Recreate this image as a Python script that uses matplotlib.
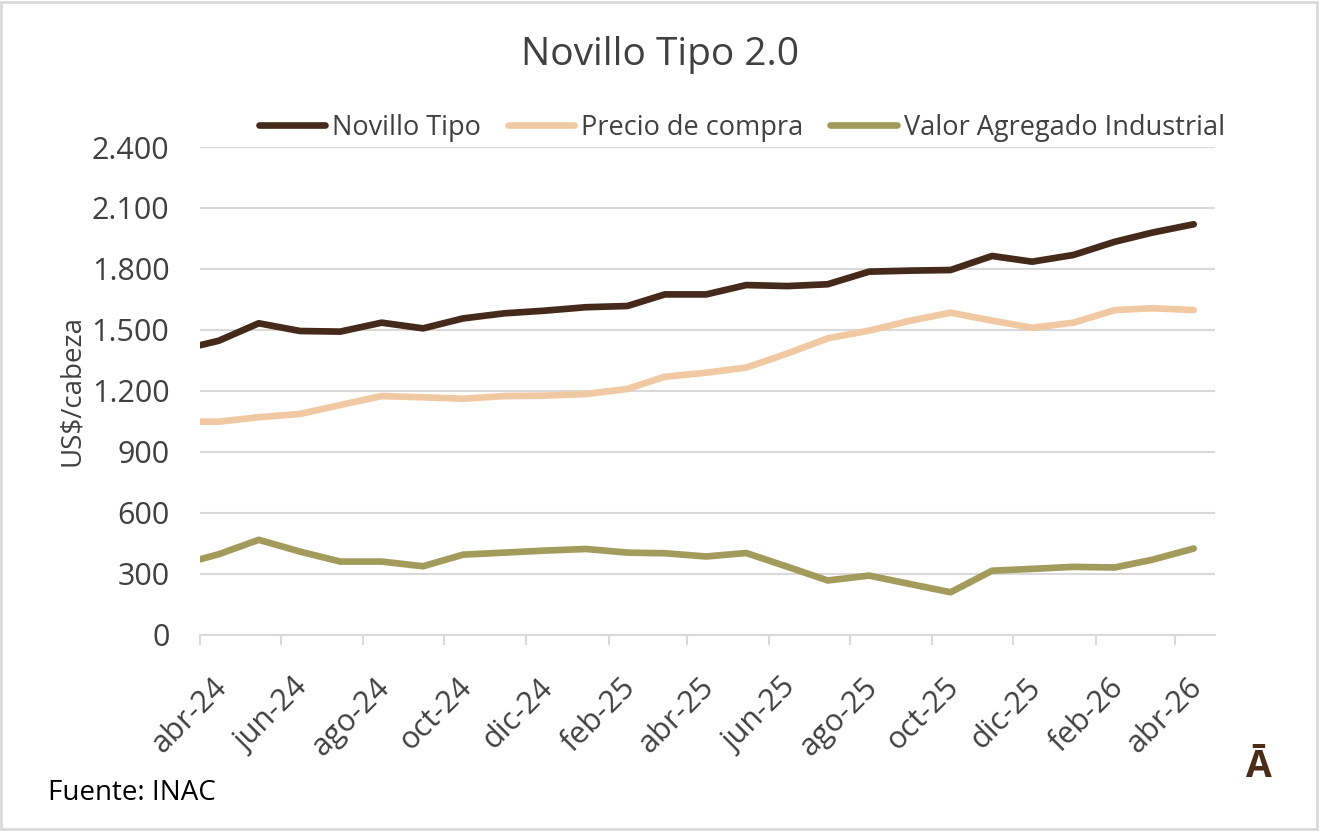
import matplotlib
matplotlib.use('Agg')
import matplotlib.pyplot as plt
import matplotlib.transforms as mtransforms
from matplotlib.patches import Rectangle
import pandas as pd

plt.rcParams['font.family'] = ['Open Sans', 'DejaVu Sans']

# --- data ---
fechas = ['2024-04-01', '2024-04-15', '2024-05-15', '2024-06-15', '2024-07-15',
          '2024-08-15', '2024-09-15', '2024-10-15', '2024-11-15', '2024-12-15',
          '2025-01-15', '2025-02-15', '2025-03-15', '2025-04-15', '2025-05-15',
          '2025-06-15', '2025-07-15', '2025-08-15', '2025-09-15', '2025-10-15',
          '2025-11-15', '2025-12-15', '2026-01-15', '2026-02-15', '2026-03-15',
          '2026-04-15']
novillo_tipo = [1425, 1447, 1533, 1495, 1492, 1536, 1508, 1557, 1582, 1595,
                1612, 1618, 1675, 1675, 1721, 1716, 1725, 1787, 1792, 1795,
                1864, 1836, 1869, 1934, 1979, 2020]
precio_compra = [1049, 1049, 1071, 1087, 1131, 1175, 1169, 1162, 1175, 1177,
                 1185, 1210, 1270, 1290, 1315, 1385, 1459, 1497, 1546, 1585,
                 1546, 1511, 1536, 1598, 1607, 1598]
valor_agregado = [372, 397, 468, 410, 361, 361, 338, 395, 405, 415,
                  423, 405, 402, 386, 403, 335, 268, 292, 250, 210,
                  316, 325, 335, 332, 370, 425]

tick_fechas = ['2024-04-01', '2024-06-01', '2024-08-01', '2024-10-01', '2024-12-01',
               '2025-02-01', '2025-04-01', '2025-06-01', '2025-08-01', '2025-10-01',
               '2025-12-01', '2026-02-01', '2026-04-01']
tick_labels = ['abr-24', 'jun-24', 'ago-24', 'oct-24', 'dic-24', 'feb-25', 'abr-25',
               'jun-25', 'ago-25', 'oct-25', 'dic-25', 'feb-26', 'abr-26']
y_ticks = [0, 300, 600, 900, 1200, 1500, 1800, 2100, 2400]

C_NOVILLO = '#45291a'
C_PRECIO = '#f0c9a2'
C_VALOR = '#a39b5b'
C_TEXT = '#404040'
C_GRID = '#d9d9d9'

t = pd.to_datetime(fechas)

fig = plt.figure(figsize=(13.2, 8.31), dpi=100)
ax = fig.add_axes([0.1515, 0.2359, 0.7690, 0.5872])

lw = 4.8
ax.plot(t, novillo_tipo, color=C_NOVILLO, lw=lw, solid_capstyle='round',
        solid_joinstyle='round', label='Novillo Tipo', zorder=3)
ax.plot(t, precio_compra, color=C_PRECIO, lw=lw, solid_capstyle='round',
        solid_joinstyle='round', label='Precio de compra', zorder=3)
ax.plot(t, valor_agregado, color=C_VALOR, lw=lw, solid_capstyle='round',
        solid_joinstyle='round', label='Valor Agregado Industrial', zorder=3)

ax.set_xlim(pd.Timestamp('2024-04-01'), pd.Timestamp('2026-05-01'))
ax.set_ylim(0, 2400)
ax.set_yticks(y_ticks)
ax.set_yticklabels([f'{v:,}'.replace(',', '.') for v in y_ticks])
ax.yaxis.grid(True, color=C_GRID, lw=1.5, zorder=0)
ax.set_axisbelow(True)

for s in ['top', 'right', 'left']:
    ax.spines[s].set_visible(False)
ax.spines['bottom'].set_color(C_GRID)
ax.spines['bottom'].set_linewidth(1.5)
ax.tick_params(axis='x', direction='out', length=7, width=1.5, color=C_GRID,
               pad=20, labelsize=22, labelcolor=C_TEXT)
ax.tick_params(axis='y', length=0, pad=22, labelsize=22, labelcolor=C_TEXT)

ax.set_xticks(pd.to_datetime(tick_fechas))
ax.set_xticklabels(tick_labels, rotation=45, ha='right', rotation_mode='anchor')
# push the rotated labels a bit to the right, like the Excel original
shift = mtransforms.ScaledTranslation(0.12, 0, fig.dpi_scale_trans)
for lab in ax.get_xticklabels():
    lab.set_transform(lab.get_transform() + shift)

ax.set_ylabel('US$/cabeza', fontsize=20, color=C_TEXT, labelpad=4)

fig.text(0.5, 0.934, 'Novillo Tipo 2.0', ha='center', va='center',
         fontsize=28, color=C_TEXT)

leg = fig.legend(loc='center', bbox_to_anchor=(0.562, 0.846), ncol=3, frameon=False,
                 fontsize=19.5, handlelength=2.45, handletextpad=0.25, columnspacing=1.0,
                 labelcolor=C_TEXT)

fig.text(0.036, 0.046, 'Fuente: INAC', ha='left', va='center', fontsize=20, color='black')
fig.text(0.953, 0.077, 'Ā', ha='center', va='center', fontsize=27,
         fontweight='bold', color='#4a2c17')

fig.patches.append(Rectangle((0.001, 0.002), 0.997, 0.995, transform=fig.transFigure,
                             fill=False, edgecolor=C_GRID, lw=2))

fig.savefig('out.png', dpi=100, facecolor='white')
